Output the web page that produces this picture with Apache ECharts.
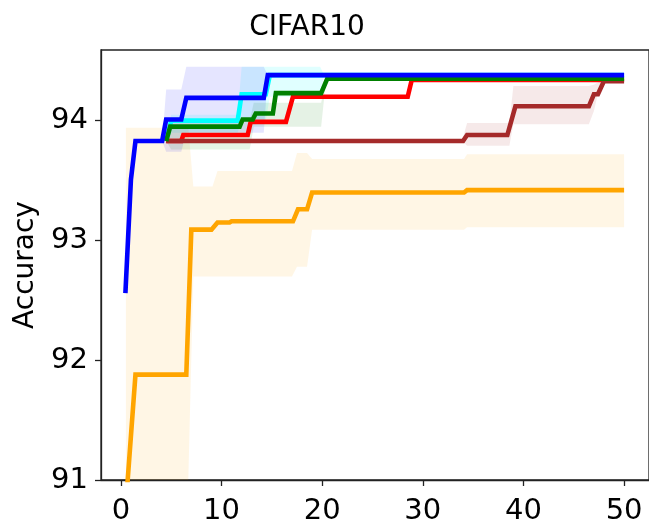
<!DOCTYPE html>
<html>
<head>
<meta charset="utf-8">
<script src="https://cdn.jsdelivr.net/npm/echarts@6/dist/echarts.min.js"></script>
<style>
  html, body { margin: 0; padding: 0; background: #fff; }
  #chart { width: 649px; height: 519px; }
</style>
</head>
<body>
<div id="chart"></div>
<script>
// Best-so-far accuracy curves (mean line + spread band) on CIFAR10
const xTicks = [0, 10, 20, 30, 40, 50];
const yTicks = [91, 92, 93, 94];

// Orange
const orangeX = [0.5, 1.45, 6.5, 7.0, 9.0, 9.6, 10.8, 11.0, 17.1, 17.6, 18.5, 19.0, 34.1, 34.4, 50];
const orangeY = [90.8, 91.88, 91.88, 93.09, 93.09, 93.15, 93.15, 93.16, 93.16, 93.26, 93.26, 93.40, 93.40, 93.42, 93.42];
const orangeBandX = [0.5, 6.7, 7.2, 9.1, 9.6, 17.0, 17.5, 18.5, 19.0, 34.1, 34.4, 50];
const orangeBandHi = [93.94, 93.94, 93.45, 93.45, 93.58, 93.58, 93.73, 93.73, 93.68, 93.68, 93.72, 93.72];
const orangeBandLo = [90.5, 90.5, 92.70, 92.70, 92.70, 92.70, 92.78, 92.78, 93.09, 93.09, 93.11, 93.11];

// Brown
const brownX = [4.5, 34.0, 34.4, 38.4, 39.2, 46.5, 47.0, 47.4, 48.0, 50];
const brownY = [93.83, 93.83, 93.88, 93.88, 94.12, 94.12, 94.22, 94.22, 94.33, 94.33];
const brownBandX = [33.9, 34.4, 38.6, 39.0, 46.5, 47.0, 47.6, 48.0];
const brownBandHi = [93.83, 93.98, 93.98, 94.29, 94.29, 94.30, 94.33, 94.33];
const brownBandLo = [93.83, 93.79, 93.79, 93.97, 93.97, 94.08, 94.30, 94.33];

// Red
const redX = [4.5, 6.0, 6.2, 12.6, 12.9, 16.4, 17.1, 28.5, 28.9, 50];
const redY = [93.83, 93.83, 93.88, 93.88, 93.99, 93.99, 94.20, 94.20, 94.34, 94.34];

// Cyan
const cyanX = [4.5, 5.0, 11.6, 12.0, 14.4, 14.8, 50];
const cyanY = [93.83, 94.0, 94.0, 94.22, 94.22, 94.38, 94.38];
const cyanBandX = [4.5, 5.0, 11.6, 12.0, 14.4, 14.8, 19.8, 20.2];
const cyanBandHi = [93.83, 94.05, 94.05, 94.45, 94.45, 94.45, 94.45, 94.38];
const cyanBandLo = [93.83, 93.90, 93.90, 94.00, 94.00, 94.20, 94.20, 94.38];

// Green
const greenX = [4.5, 4.9, 11.8, 12.1, 13.1, 13.4, 15.1, 15.4, 19.9, 20.5, 50];
const greenY = [93.83, 93.95, 93.95, 94.01, 94.01, 94.06, 94.06, 94.23, 94.23, 94.35, 94.35];
const greenBandX = [4.5, 5.0, 12.8, 13.2, 19.9, 20.4];
const greenBandHi = [93.83, 94.00, 94.00, 94.15, 94.15, 94.35];
const greenBandLo = [93.83, 93.76, 93.76, 93.95, 93.95, 94.35];

// Blue
const blueX = [0.45, 1.0, 1.45, 4.1, 4.5, 6.0, 6.5, 14.2, 14.6, 50];
const blueY = [92.56, 93.51, 93.83, 93.83, 94.01, 94.01, 94.19, 94.19, 94.38, 94.38];
const blueBandX = [4.1, 4.5, 6.0, 6.5, 14.2, 14.6];
const blueBandHi = [93.83, 94.26, 94.26, 94.45, 94.45, 94.38];
const blueBandLo = [93.83, 93.74, 93.74, 93.90, 93.90, 94.38];

const FONT = 'DejaVu Sans';

function zip(xs, ys) { return xs.map((x, i) => [x, ys[i]]); }

function lineSeries(name, xs, ys, color, z) {
  return {
    name, type: 'line', data: zip(xs, ys), symbol: 'none', clip: true,
    lineStyle: { color, width: 4.6, cap: 'butt', join: 'miter' },
    z, animation: false, silent: true
  };
}

function bandSeries(name, xs, lo, hi, fill) {
  return {
    name, type: 'custom', z: 1, silent: true, animation: false,
    data: xs.map((x, i) => [x, lo[i], hi[i]]),
    encode: { x: 0, y: [1, 2] },
    renderItem(params, api) {
      if (params.dataIndex !== 0) return;
      const pts = [];
      for (let i = 0; i < xs.length; i++) pts.push(api.coord([xs[i], hi[i]]));
      for (let i = xs.length - 1; i >= 0; i--) pts.push(api.coord([xs[i], lo[i]]));
      return {
        type: 'polygon',
        shape: { points: echarts.graphic.clipPointsByRect(pts, params.coordSys) },
        style: { fill }
      };
    }
  };
}

const chart = echarts.init(document.getElementById('chart'), null, { renderer: 'canvas' });
chart.setOption({
  animation: false,
  backgroundColor: '#fff',
  title: {
    text: 'CIFAR10', left: 302, top: 9, textAlign: 'center',
    textStyle: { fontFamily: FONT, fontSize: 28, fontWeight: 'normal', color: '#000' }
  },
  grid: {
    left: 101, top: 50, width: 548, height: 430,
    containLabel: false, outerBoundsMode: 'none',
    show: true, borderColor: '#222', borderWidth: 1.3, backgroundColor: 'transparent'
  },
  xAxis: {
    type: 'value', min: -1.975, max: 52.475,
    splitLine: { show: false },
    axisLine: { show: true, onZero: false, lineStyle: { color: '#222', width: 1.3 } },
    axisTick: { show: true, inside: false, length: 6, customValues: xTicks, lineStyle: { color: '#222', width: 1.3 } },
    axisLabel: { customValues: xTicks, margin: 17, color: '#000', fontFamily: FONT, fontSize: 29 }
  },
  yAxis: {
    type: 'value', min: 91, max: 94.59,
    name: 'Accuracy', nameLocation: 'middle', nameRotate: 90, nameGap: 51,
    nameTextStyle: { fontFamily: FONT, fontSize: 28, color: '#000' },
    splitLine: { show: false },
    axisLine: { show: true, onZero: false, lineStyle: { color: '#222', width: 1.3 } },
    axisTick: { show: true, inside: false, length: 6, customValues: yTicks, lineStyle: { color: '#222', width: 1.3 } },
    axisLabel: { customValues: yTicks, margin: 13, color: '#000', fontFamily: FONT, fontSize: 29 }
  },
  series: [
    bandSeries('orangeBand', orangeBandX, orangeBandLo, orangeBandHi, 'rgba(255,165,0,0.1)'),
    bandSeries('brownBand', brownBandX, brownBandLo, brownBandHi, 'rgba(165,42,42,0.1)'),
    bandSeries('cyanBand', cyanBandX, cyanBandLo, cyanBandHi, 'rgba(0,255,255,0.12)'),
    bandSeries('greenBand', greenBandX, greenBandLo, greenBandHi, 'rgba(0,128,0,0.1)'),
    bandSeries('blueBand', blueBandX, blueBandLo, blueBandHi, 'rgba(0,0,255,0.1)'),
    lineSeries('orange', orangeX, orangeY, '#ffa500', 2),
    lineSeries('red', redX, redY, '#ff0000', 3),
    lineSeries('cyan', cyanX, cyanY, '#00ffff', 4),
    lineSeries('brown', brownX, brownY, '#a52a2a', 5),
    lineSeries('green', greenX, greenY, '#008000', 6),
    lineSeries('blue', blueX, blueY, '#0000ff', 7)
  ]
});
</script>
</body>
</html>
